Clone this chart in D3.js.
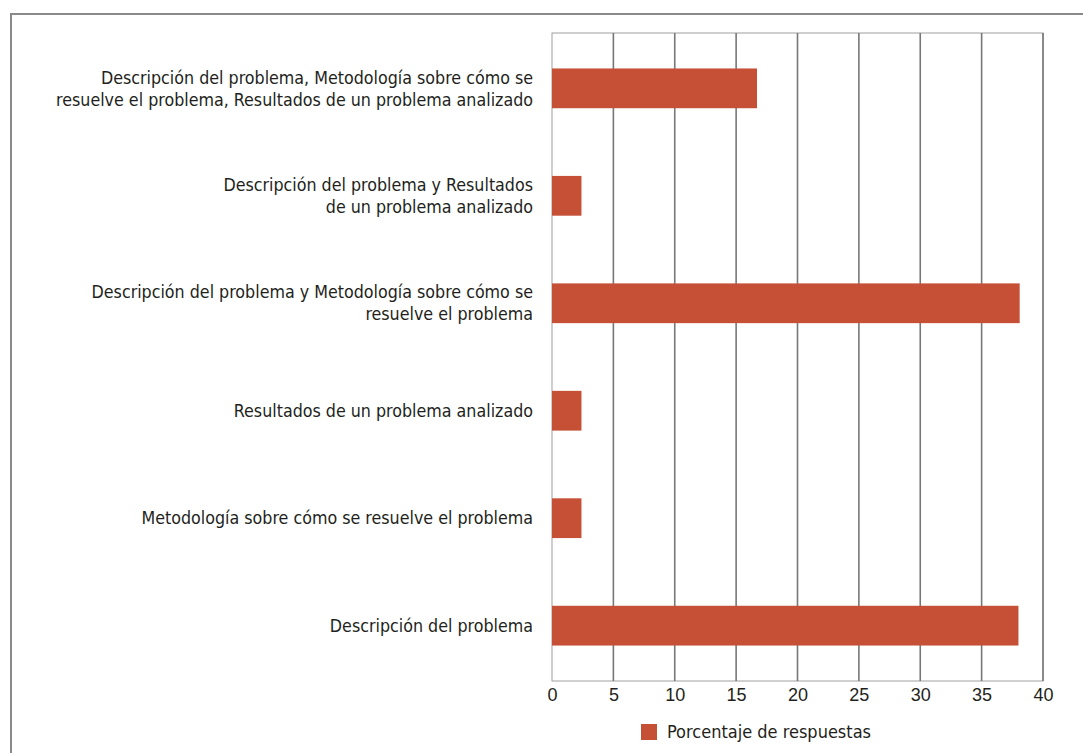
<!DOCTYPE html>
<html>
<head>
<meta charset="utf-8">
<script src="https://cdn.jsdelivr.net/npm/d3@7"></script>
<style>
  body { margin: 0; background: #fff; }
  text { font-family: "Liberation Sans Narrow", "DejaVu Sans Condensed", sans-serif; fill: #231f20; }
</style>
</head>
<body>
<div class="chart"></div>
<script>
// categories, top to bottom (each an array of lines)
var categories = [
    ["Descripción del problema, Metodología sobre cómo se", "resuelve el problema, Resultados de un problema analizado"],
    ["Descripción del problema y Resultados", "de un problema analizado"],
    ["Descripción del problema y Metodología sobre cómo se", "resuelve el problema"],
    ["Resultados de un problema analizado"],
    ["Metodología sobre cómo se resuelve el problema"],
    ["Descripción del problema"]
];
var values = [16.7, 2.4, 38.1, 2.4, 2.4, 38.0];
var xTicks = [0, 5, 10, 15, 20, 25, 30, 35, 40];
var seriesName = "Porcentaje de respuestas";

var svgWidth = 1083;
var svgHeight = 753;
var margin = { top: 33, right: 40, bottom: 72, left: 552 };
var width = svgWidth - margin.left - margin.right;
var height = svgHeight - margin.top - margin.bottom;

var root = d3.select(".chart")
    .append("svg")
    .attr("width", svgWidth)
    .attr("height", svgHeight);

// outer frame (only top and left visible)
root.append("path")
    .attr("d", "M11," + svgHeight + "V14H" + svgWidth)
    .attr("fill", "none")
    .attr("stroke", "#8a8a8a")
    .attr("stroke-width", 2);

var chart = root.append("g")
    .attr("transform", `translate(${margin.left},${margin.top})`);

var xScale = d3.scaleLinear().domain([0, 40]).range([0, width]);
var yScale = d3.scaleBand()
    .domain(d3.range(categories.length))
    .range([0, height])
    .paddingInner(0.63)
    .paddingOuter(0.33);

// plot box
chart.append("rect")
    .attr("width", width)
    .attr("height", height)
    .attr("fill", "none")
    .attr("stroke", "#a0a0a0")
    .attr("stroke-width", 1);

// gridlines
chart.selectAll(".grid")
    .data(xTicks.slice(1))
    .enter()
    .append("line")
    .attr("class", "grid")
    .attr("x1", function (d) { return xScale(d); })
    .attr("x2", function (d) { return xScale(d); })
    .attr("y1", 0)
    .attr("y2", height)
    .attr("stroke", "#777")
    .attr("stroke-width", 1.6);

// bars
chart.selectAll(".bar")
    .data(values)
    .enter()
    .append("rect")
    .attr("class", "bar")
    .attr("x", xScale(0))
    .attr("y", function (d, i) { return yScale(i); })
    .attr("width", function (d) { return xScale(d) - xScale(0); })
    .attr("height", yScale.bandwidth())
    .attr("fill", "#c65035");

// x axis
var xAxis = d3.axisBottom(xScale).tickValues(xTicks).tickSize(0).tickPadding(7);
var gx = chart.append("g")
    .attr("transform", `translate(0,${height})`)
    .call(xAxis);
gx.select(".domain").remove();
gx.selectAll("text").attr("font-size", "18px").attr("fill", "#231f20")
    .style("font-family", "'Liberation Sans Narrow', sans-serif");

// category labels
var lineH = 22;
chart.selectAll(".cat")
    .data(categories)
    .enter()
    .append("text")
    .attr("class", "cat")
    .attr("text-anchor", "end")
    .attr("font-size", "17.7px")
    .each(function (lines, i) {
        var cy = yScale(i) + yScale.bandwidth() / 2;
        var y0 = cy - (lines.length - 1) * lineH / 2;
        d3.select(this).selectAll("tspan")
            .data(lines)
            .enter()
            .append("tspan")
            .attr("x", -19)
            .attr("y", function (d, j) { return y0 + j * lineH; })
            .attr("dy", "0.35em")
            .text(function (d) { return d; });
    });

// legend
var legend = root.append("g").attr("transform", "translate(641,724)");
legend.append("rect").attr("width", 16).attr("height", 16).attr("fill", "#c65035");
legend.append("text").attr("x", 26).attr("y", 8).attr("dy", "0.35em")
    .attr("font-size", "18px").text(seriesName);
</script>
</body>
</html>
